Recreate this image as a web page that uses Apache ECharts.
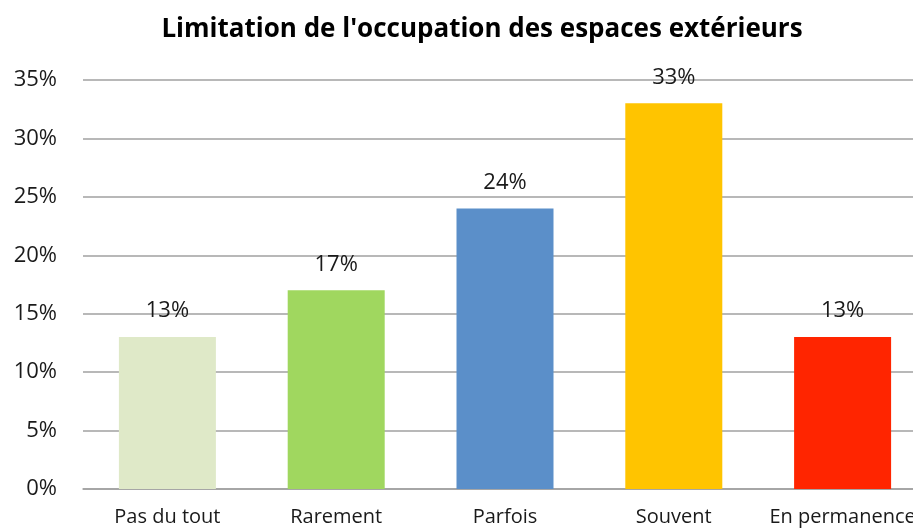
<!DOCTYPE html>
<html>
<head>
<meta charset="utf-8">
<script src="https://cdn.jsdelivr.net/npm/echarts@6/dist/echarts.min.js"></script>
<style>
  html, body { margin: 0; padding: 0; background: #fff; }
  #chart { width: 913px; height: 528px; }
</style>
</head>
<body>
<div id="chart"></div>
<script>
var categories = ['Pas du tout', 'Rarement', 'Parfois', 'Souvent', 'En permanence'];
var values = [13, 17, 24, 33, 13];
var barColors = ['#dfe9c8', '#a0d75f', '#5b8fc9', '#ffc400', '#ff2500'];

var dom = document.getElementById('chart');
var myChart = echarts.init(dom);

var option = {
    animation: false,
    title: {
        text: "Limitation de l'occupation des espaces extérieurs",
        left: 477,
        textAlign: 'center',
        top: 12,
        textStyle: {
            color: '#000',
            fontFamily: 'Open Sans',
            fontWeight: 'bold',
            fontSize: 26
        }
    },
    grid: {
        left: 83,
        width: 844,
        top: 80,
        bottom: 39,
        outerBoundsMode: 'none'
    },
    xAxis: {
        type: 'category',
        data: categories,
        axisLine: { lineStyle: { color: '#a0a0a0', width: 1.5 } },
        axisTick: { show: false },
        axisLabel: {
            interval: 0,
            hideOverlap: false,
            color: '#1a1a1a',
            fontFamily: 'Open Sans',
            fontSize: 20,
            margin: 18
        }
    },
    yAxis: {
        type: 'value',
        min: 0,
        max: 35,
        interval: 5,
        axisLine: { show: false },
        axisTick: { show: false },
        splitLine: { lineStyle: { color: '#a0a0a0', width: 1.5 } },
        axisLabel: {
            color: '#1a1a1a',
            fontFamily: 'Open Sans',
            fontSize: 22,
            margin: 26,
            formatter: '{value}%'
        }
    },
    series: [{
        type: 'bar',
        barWidth: 97,
        data: values.map(function (v, i) {
            return { value: v, itemStyle: { color: barColors[i] } };
        }),
        label: {
            show: true,
            position: 'top',
            distance: 15,
            color: '#1a1a1a',
            fontFamily: 'Open Sans',
            fontSize: 22,
            formatter: '{c}%'
        }
    }]
};

myChart.setOption(option, true);
</script>
</body>
</html>
